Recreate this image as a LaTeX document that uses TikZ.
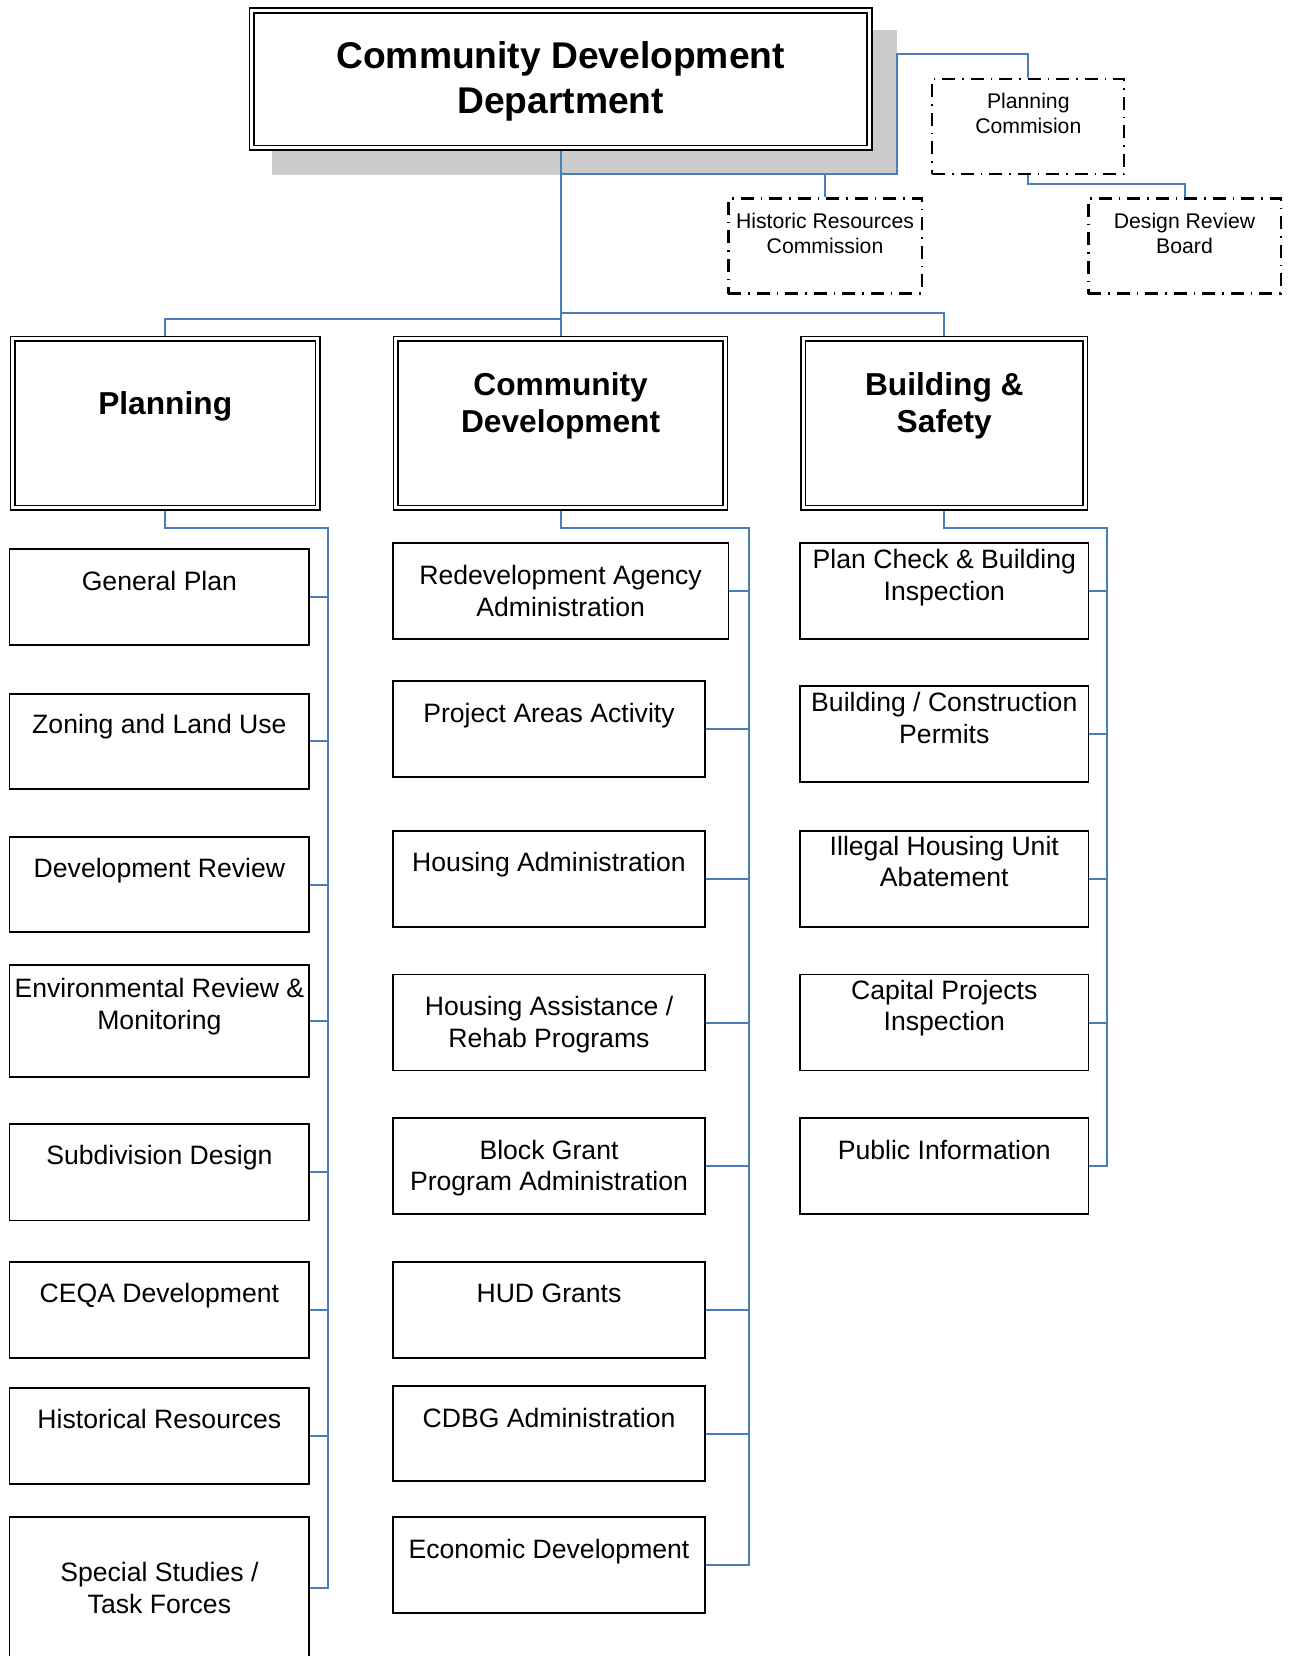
\documentclass[tikz,border=0pt]{standalone}
\usepackage{fontspec}
\setmainfont{Liberation Sans}

\definecolor{linkblue}{RGB}{74,126,187}
\definecolor{shadegray}{RGB}{204,204,204}

\begin{document}
\begin{tikzpicture}[x=1pt, y=-1pt,
    dept/.style={rectangle, draw, double, double distance=3pt, line width=1.6pt, outer sep=3.1pt, inner sep=0pt, fill=white},
    unit/.style={rectangle, draw, line width=1.8pt, outer sep=0.9pt, inner sep=0pt},
    board/.style={rectangle, draw, line width=2.2pt, dash pattern=on 13pt off 7pt on 1.5pt off 7pt, outer sep=1.1pt, inner sep=0pt},
    headtxt/.style={font=\fontsize{37.2}{45.4}\selectfont\bfseries, align=center, inner sep=0pt},
    divtxt/.style={font=\fontsize{31.7}{37}\selectfont\bfseries, align=center, inner sep=0pt},
    unittxt/.style={font=\fontsize{26.6}{31.6}\selectfont, align=center, inner sep=0pt},
    boardtxt/.style={font=\fontsize{21.2}{24.8}\selectfont, align=center, inner sep=0pt},
    link/.style={draw=linkblue, line width=2pt}
]

% Page
\useasboundingbox (0,0) rectangle (1289,1656);
\clip (0,0) rectangle (1289,1656);

% Department with its shadow
\fill[shadegray] (272.4,29.6) rectangle (897.3,175.2);
\node[dept, minimum width=617.8pt, minimum height=137.4pt] (cdd) at (560.6,79.2) {};
\node[headtxt] (cdd_txt) at (560.6,81.3) {Community Development\\Department};

% Boards and commissions
\node[board, minimum width=192.1pt, minimum height=95pt] (pc) at (1028.3,126.7) {};
\node[boardtxt] (pc_txt) at (1028.3,113.5) {Planning\\Commision};
\node[board, minimum width=193.2pt, minimum height=95pt] (hrc) at (825.0,246.0) {};
\node[boardtxt] (hrc_txt) at (825.0,233.3) {Historic Resources\\Commission};
\node[board, minimum width=192.2pt, minimum height=95pt] (drb) at (1184.5,246.0) {};
\node[boardtxt] (drb_txt) at (1184.5,233.3) {Design Review\\Board};

% Divisions
\node[dept, minimum width=305.2pt, minimum height=169.1pt] (pl) at (165.2,423.3) {};
\node[divtxt] (pl_txt) at (165.2,406.5) {Planning};
\node[dept, minimum width=329.5pt, minimum height=169.1pt] (cd) at (560.6,423.3) {};
\node[divtxt] (cd_txt) at (560.6,405.9) {Community\\Development};
\node[dept, minimum width=282.0pt, minimum height=169.1pt] (bs) at (944.3,423.3) {};
\node[divtxt] (bs_txt) at (944.3,405.9) {Building \&\\Safety};

% Planning units
\node[unit, minimum width=299.8pt, minimum height=96pt] (gen_plan) at (159.4,597.0) {};
\node[unittxt] (gen_plan_txt) at (159.4,580.6) {General Plan};
\node[unit, minimum width=299.8pt, minimum height=95pt] (zoning) at (159.4,741.1) {};
\node[unittxt] (zoning_txt) at (159.4,726.9) {Zoning and Land Use};
\node[unit, minimum width=299.8pt, minimum height=95pt] (dev_review) at (159.4,884.7) {};
\node[unittxt] (dev_review_txt) at (159.4,870.5) {Development Review};
\node[unit, minimum width=299.8pt, minimum height=111.9pt] (env_review) at (159.4,1020.9) {};
\node[unittxt] (env_review_txt) at (159.4,1006.7) {Environmental Review \&\\Monitoring};
\node[unit, minimum width=299.8pt, minimum height=96.1pt] (subdiv) at (159.4,1172.4) {};
\node[unittxt] (subdiv_txt) at (159.4,1157.6) {Subdivision Design};
\node[unit, minimum width=299.8pt, minimum height=96pt] (ceqa) at (159.4,1309.6) {};
\node[unittxt] (ceqa_txt) at (159.4,1295.9) {CEQA Development};
\node[unit, minimum width=299.8pt, minimum height=96.1pt] (hist_res) at (159.4,1436.3) {};
\node[unittxt] (hist_res_txt) at (159.4,1418.9) {Historical Resources};
\node[unit, minimum width=299.8pt, minimum height=141.5pt] (special) at (159.4,1587.8) {};
\node[unittxt] (special_txt) at (159.4,1587.8) {Special Studies /\\Task Forces};

% Community Development units
\node[unit, minimum width=335.7pt, minimum height=96.1pt] (redev) at (560.6,590.7) {};
\node[unittxt] (redev_txt) at (560.6,591.2) {Redevelopment Agency\\Administration};
\node[unit, minimum width=312.5pt, minimum height=96.1pt] (proj_areas) at (549.0,729.0) {};
\node[unittxt] (proj_areas_txt) at (549.0,715.3) {Project Areas Activity};
\node[unit, minimum width=312.5pt, minimum height=96.1pt] (housing_adm) at (549.0,878.9) {};
\node[unittxt] (housing_adm_txt) at (549.0,864.2) {Housing Administration};
\node[unit, minimum width=312.5pt, minimum height=96.1pt] (housing_ast) at (549.0,1022.5) {};
\node[unittxt] (housing_ast_txt) at (549.0,1024.6) {Housing Assistance /\\Rehab Programs};
\node[unit, minimum width=312.5pt, minimum height=96.1pt] (block_grant) at (549.0,1166.0) {};
\node[unittxt] (block_grant_txt) at (549.0,1168.2) {Block Grant\\Program Administration};
\node[unit, minimum width=312.5pt, minimum height=96pt] (hud) at (549.0,1309.6) {};
\node[unittxt] (hud_txt) at (549.0,1293.2) {HUD Grants};
\node[unit, minimum width=312.5pt, minimum height=95pt] (cdbg) at (549.0,1433.6) {};
\node[unittxt] (cdbg_txt) at (549.0,1417.8) {CDBG Administration};
\node[unit, minimum width=312.5pt, minimum height=96.1pt] (econ) at (549.0,1565.1) {};
\node[unittxt] (econ_txt) at (549.0,1551.4) {Economic Development};

% Building & Safety units
\node[unit, minimum width=288.2pt, minimum height=96.1pt] (plan_check) at (944.3,590.7) {};
\node[unittxt] (plan_check_txt) at (944.3,577.5) {Plan Check \& Building\\Inspection};
\node[unit, minimum width=288.2pt, minimum height=96.1pt] (permits) at (944.3,734.2) {};
\node[unittxt] (permits_txt) at (944.3,717.9) {Building / Construction\\Permits};
\node[unit, minimum width=288.2pt, minimum height=96.1pt] (illegal) at (944.3,878.9) {};
\node[unittxt] (illegal_txt) at (944.3,861.5) {Illegal Housing Unit\\Abatement};
\node[unit, minimum width=288.2pt, minimum height=96.1pt] (capital) at (944.3,1022.5) {};
\node[unittxt] (capital_txt) at (944.3,1008.2) {Capital Projects\\Inspection};
\node[unit, minimum width=288.2pt, minimum height=96.1pt] (public_info) at (944.3,1166.0) {};
\node[unittxt] (public_info_txt) at (944.3,1149.7) {Public Information};

% Connections at the top
\coordinate (brk) at (897.3,174.2);
\draw[link] (cdd.south) -- (cd.north);
\draw[link] (cdd.south |- brk) -- (brk) |- ([yshift=24pt]pc.north) -- (pc.north);
\draw[link] (hrc.north) -- (hrc.north |- brk);
\draw[link] (pc.south) -- ++(0,8.4) -| (drb.north);
\draw[link] (pl.north) |- ([yshift=17pt]cd.north);
\draw[link] (bs.north) |- ([yshift=23pt]cd.north);

% Planning column
\coordinate (pl_bus) at (328.3,527.9);
\draw[link] (pl.south) |- (pl_bus) -- (pl_bus |- special.east) -- (special.east);
\draw[link] (gen_plan.east) -- (gen_plan.east -| pl_bus);
\draw[link] (zoning.east) -- (zoning.east -| pl_bus);
\draw[link] (dev_review.east) -- (dev_review.east -| pl_bus);
\draw[link] (env_review.east) -- (env_review.east -| pl_bus);
\draw[link] (subdiv.east) -- (subdiv.east -| pl_bus);
\draw[link] (ceqa.east) -- (ceqa.east -| pl_bus);
\draw[link] (hist_res.east) -- (hist_res.east -| pl_bus);

% Community Development column
\coordinate (cd_bus) at (748.5,527.9);
\draw[link] (cd.south) |- (cd_bus) -- (cd_bus |- econ.east) -- (econ.east);
\draw[link] (redev.east) -- (redev.east -| cd_bus);
\draw[link] (proj_areas.east) -- (proj_areas.east -| cd_bus);
\draw[link] (housing_adm.east) -- (housing_adm.east -| cd_bus);
\draw[link] (housing_ast.east) -- (housing_ast.east -| cd_bus);
\draw[link] (block_grant.east) -- (block_grant.east -| cd_bus);
\draw[link] (hud.east) -- (hud.east -| cd_bus);
\draw[link] (cdbg.east) -- (cdbg.east -| cd_bus);

% Building & Safety column
\coordinate (bs_bus) at (1107.4,527.9);
\draw[link] (bs.south) |- (bs_bus) -- (bs_bus |- public_info.east) -- (public_info.east);
\draw[link] (plan_check.east) -- (plan_check.east -| bs_bus);
\draw[link] (permits.east) -- (permits.east -| bs_bus);
\draw[link] (illegal.east) -- (illegal.east -| bs_bus);
\draw[link] (capital.east) -- (capital.east -| bs_bus);

\end{tikzpicture}
\end{document}
